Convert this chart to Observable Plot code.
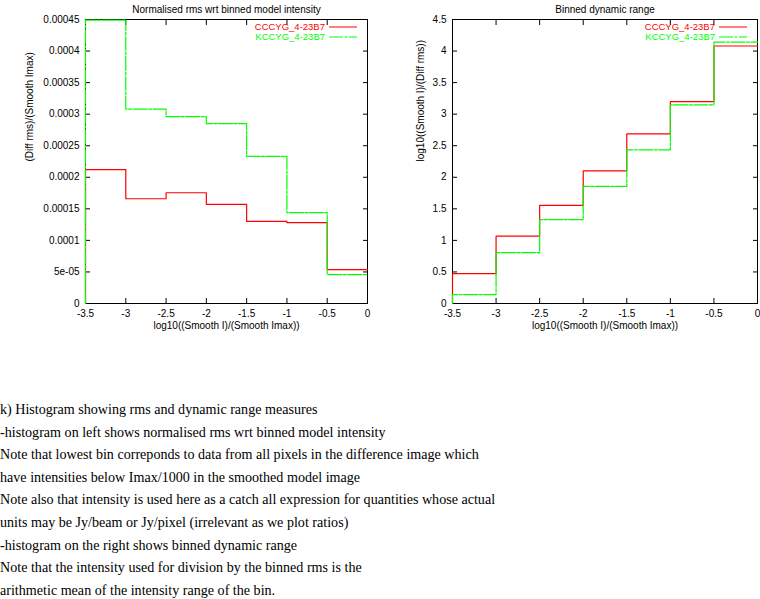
<!DOCTYPE html>
<html><head><meta charset="utf-8">
<script src="https://cdn.jsdelivr.net/npm/d3@7"></script>
<script src="https://cdn.jsdelivr.net/npm/@observablehq/plot@0.6"></script>
<style>
body{margin:0;background:#fff;width:760px;height:599px;overflow:hidden;position:relative}
#charts{position:absolute;left:0;top:0;width:760px;height:340px}
#charts svg{position:absolute;top:0;overflow:visible}
#notes{position:absolute;left:0;top:398px;font-family:"Liberation Serif","Times New Roman",serif;font-size:14.1px;line-height:22.6px;white-space:nowrap;color:#000}
</style></head><body>
<div id="charts"></div>
<div id="notes"></div>
<script>
// ---- data ----
const binEdges = [-3.5, -3, -2.5, -2, -1.5, -1, -0.5, 0];
const seriesNames = ["CCCYG_4-23B7", "KCCYG_4-23B7"];
const seriesColors = ["#ff0000", "#00ff00"];
const rmsCCCYG = [0.000212, 0.000166, 0.0001755, 0.000157, 0.00013, 0.000128, 0.0000538];
const rmsKCCYG = [0.000449, 0.000308, 0.000296, 0.000285, 0.000233, 0.000144, 0.0000459];
const drCCCYG = [0.474, 1.069, 1.555, 2.103, 2.688, 3.199, 4.080];
const drKCCYG = [0.142, 0.806, 1.328, 1.855, 2.435, 3.147, 4.143];
const xTicks = [-3.5, -3, -2.5, -2, -1.5, -1, -0.5, 0];
const xTickLabels = ["-3.5", "-3", "-2.5", "-2", "-1.5", "-1", "-0.5", "0"];
const rmsTicks = [0, 0.00005, 0.0001, 0.00015, 0.0002, 0.00025, 0.0003, 0.00035, 0.0004, 0.00045];
const rmsTickLabels = ["0", "5e-05", "0.0001", "0.00015", "0.0002", "0.00025", "0.0003", "0.00035", "0.0004", "0.00045"];
const drTicks = [0, 0.5, 1, 1.5, 2, 2.5, 3, 3.5, 4, 4.5];
const drTickLabels = ["0", "0.5", "1", "1.5", "2", "2.5", "3", "3.5", "4", "4.5"];
const xLabel = "log10((Smooth I)/(Smooth Imax))";
const notes = [
  "k) Histogram showing rms and dynamic range measures",
  "-histogram on left shows normalised rms wrt binned model intensity",
  "Note that lowest bin correponds to data from all pixels in the difference image which",
  "have intensities below Imax/1000 in the smoothed model image",
  "Note also that intensity is used here as a catch all expression for quantities whose actual",
  "units may be Jy/beam or Jy/pixel (irrelevant as we plot ratios)",
  "-histogram on the right shows binned dynamic range",
  "Note that the intensity used for division by the binned rms is the",
  "arithmetic mean of the intensity range of the bin."
];

// histogram steps from bins
function steps(values) {
  const pts = [{x: binEdges[0], y: 0}];
  values.forEach((v, i) => { pts.push({x: binEdges[i], y: v}); pts.push({x: binEdges[i + 1], y: v}); });
  return pts;
}
const dash = "14,1.5,3,1.5";

function legendMark() {
  return (index, scales, values, dims) => {
    const g = d3.create("svg:g");
    const xr = dims.width - dims.marginRight;
    seriesNames.forEach((name, k) => {
      const y = dims.marginTop + 8 + k * 10;
      g.append("text").attr("x", xr - 42).attr("y", y).attr("dy", "0.35em")
        .attr("font-size", "9.5px")
        .attr("text-anchor", "end").attr("fill", seriesColors[k]).text(name);
      g.append("line").attr("x1", xr - 38).attr("x2", xr - 10).attr("y1", y).attr("y2", y)
        .attr("stroke", seriesColors[k]).attr("stroke-dasharray", k ? dash : null);
    });
    return g.node();
  };
}

function chart({series, yTicks, yTickLabels, title, ylabel, width, marginLeft, marginRight, ylabelDx}) {
  const yMap = new Map(yTicks.map((t, i) => [t, yTickLabels[i]]));
  const xMap = new Map(xTicks.map((t, i) => [t, xTickLabels[i]]));
  return Plot.plot({
    width, height: 340, marginTop: 19, marginBottom: 37, marginLeft, marginRight,
    style: {fontFamily: "'Liberation Sans', Arial, sans-serif", fontSize: "10px", background: "#fff", color: "#000", overflow: "visible"},
    x: {domain: [binEdges[0], binEdges[binEdges.length - 1]]},
    y: {domain: [yTicks[0], yTicks[yTicks.length - 1]]},
    marks: [
      Plot.frame({stroke: "#000"}),
      Plot.axisX({anchor: "bottom", ticks: xTicks, tickSize: 0, tickPadding: 6, tickFormat: d => xMap.get(d), label: null}),
      Plot.axisX({anchor: "bottom", ticks: xTicks, tickSize: -5, tickFormat: () => "", label: null}),
      Plot.axisX({anchor: "top", ticks: xTicks, tickSize: -5, tickFormat: () => "", label: null}),
      Plot.axisY({anchor: "left", ticks: yTicks, tickSize: 0, tickPadding: 6, tickFormat: d => yMap.get(d), label: null}),
      Plot.axisY({anchor: "left", ticks: yTicks, tickSize: -5, tickFormat: () => "", label: null}),
      Plot.axisY({anchor: "right", ticks: yTicks, tickSize: -5, tickFormat: () => "", label: null}),
      Plot.line(steps(series[0]), {x: "x", y: "y", stroke: seriesColors[0], strokeWidth: 1.2}),
      Plot.line(steps(series[1]), {x: "x", y: "y", stroke: seriesColors[1], strokeWidth: 1.2, strokeDasharray: dash}),
      Plot.text([title], {frameAnchor: "top", dy: -14, text: d => d}),
      Plot.text([xLabel], {frameAnchor: "bottom", dy: 25.5, text: d => d}),
      Plot.text([ylabel], {frameAnchor: "left", rotate: -90, dx: ylabelDx, text: d => d}),
      legendMark()
    ]
  });
}

const left = chart({series: [rmsCCCYG, rmsKCCYG], yTicks: rmsTicks, yTickLabels: rmsTickLabels,
  title: "Normalised rms wrt binned model intensity", ylabel: "(Diff rms)/(Smooth Imax)",
  width: 380, marginLeft: 85, marginRight: 13, ylabelDx: -56});
const right = chart({series: [drCCCYG, drKCCYG], yTicks: drTicks, yTickLabels: drTickLabels,
  title: "Binned dynamic range", ylabel: "log10((Smooth I)/(Diff rms))",
  width: 380, marginLeft: 72, marginRight: 3, ylabelDx: -31.5});
left.style.left = "0px";
right.style.left = "380px";
document.getElementById("charts").append(left, right);
const nd = document.getElementById("notes");
notes.forEach(t => { const d = document.createElement("div"); d.textContent = t; nd.append(d); });
</script>
</body></html>
